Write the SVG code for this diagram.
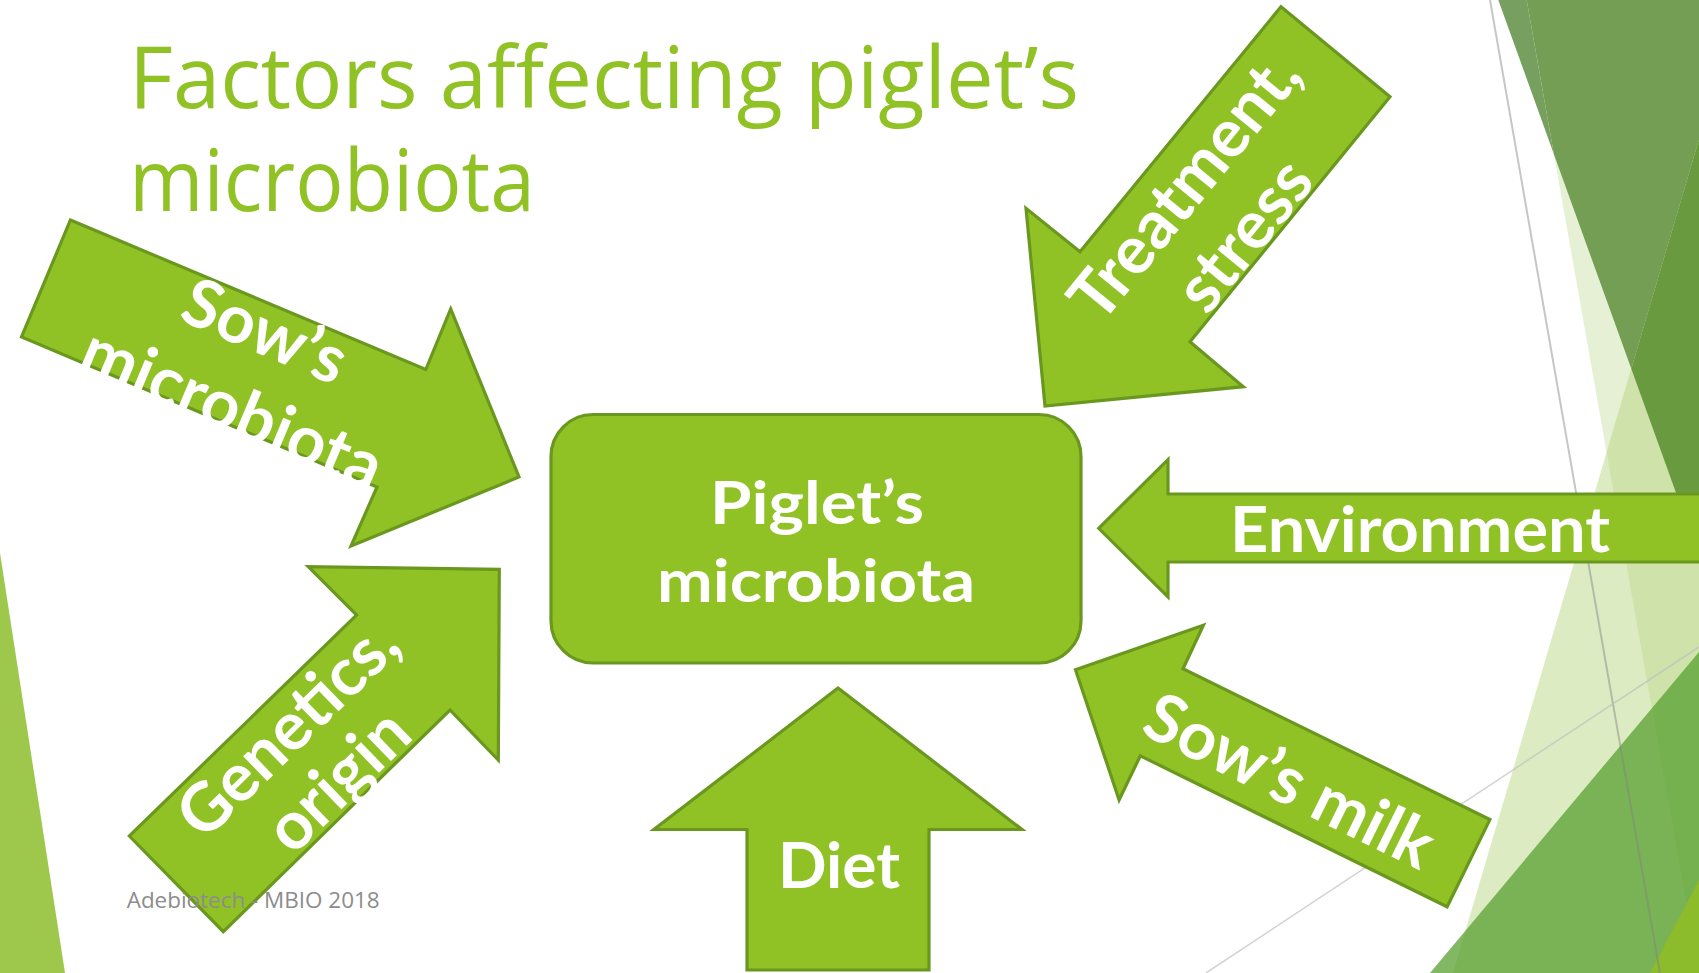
<svg xmlns="http://www.w3.org/2000/svg" width="1699" height="973" viewBox="0 0 1699 973">
<style>
.arrow{fill:#90C226;stroke:#6A971E;stroke-width:3.2;stroke-linejoin:miter}
.lbl{font-family:Lato,"Open Sans","DejaVu Sans",sans-serif;font-weight:700;fill:#FFFFFF;text-anchor:middle}
.title{font-family:"Open Sans","Noto Sans","DejaVu Sans",sans-serif;fill:#90C226}
.foot{font-family:"Open Sans","DejaVu Sans",sans-serif;fill:#8C8C8C}
</style>
<rect x="0" y="0" width="1699" height="973" fill="#FFFFFF"/>
<g id="background">
  <polygon points="0,553 0,973 65,973" fill="#9DC84B"/>
  <polygon points="1526.7,0 1699,0 1699,975" fill="#E6F0D5"/>
  <polygon points="1699,139 1699,973 1453,973" fill="rgb(170,205,105)" fill-opacity="0.4"/>
  <polygon points="1498.3,0 1526.7,0 1554,154.4" fill="#77A060"/>
  <polygon points="1526.7,0 1699,0 1699,139.3 1631.3,368.8 1554,154.4" fill="#739E53"/>
  <polygon points="1699,139.3 1699,556.5 1631.3,368.8" fill="#6A9A40"/>
  <polygon points="1699,652 1699,973 1430,973" fill="#58A030" fill-opacity="0.75"/>
  <polygon points="1699,880 1699,973 1650,973" fill="#8CBB2C"/>
  <line x1="1490" y1="0" x2="1660" y2="973" stroke="#808080" stroke-opacity="0.45" stroke-width="2"/>
  <line x1="1206" y1="973" x2="1699" y2="647" stroke="#BFBFBF" stroke-opacity="0.7" stroke-width="1.5"/>
</g>
<g id="title">
  <text class="title" x="129" y="108.3" font-size="86" textLength="950" lengthAdjust="spacingAndGlyphs">Factors affecting piglet’s</text>
  <text class="title" x="129" y="210.7" font-size="86" textLength="406" lengthAdjust="spacingAndGlyphs">microbiota</text>
</g>
<g id="connectors">
  <g id="arrow-sows-microbiota">
    <polygon class="arrow" points="70.4,220 425.8,369.5 450.7,309 519,477 351,546 377,487 21.5,337"/>
    <g transform="translate(249 369) rotate(22.8)">
      <text class="lbl" font-size="67" x="0" y="-18">Sow’s</text>
      <text class="lbl" font-size="67" x="0" y="66">microbiota</text>
    </g>
  </g>
  <g id="arrow-treatment">
    <polygon class="arrow" points="1281,6.7 1390,96.7 1190,341.7 1243.3,386.7 1045,406 1026,208.3 1080,251.7"/>
    <g transform="translate(1213.5 210) rotate(-50.8)">
      <text class="lbl" font-size="67" x="0" y="-14.5">Treatment,</text>
      <text class="lbl" font-size="67" x="0" y="62.5">stress</text>
    </g>
  </g>
  <g id="arrow-genetics">
    <polygon class="arrow" points="129.3,836 223.3,931.7 450,710 498.3,760 499.3,569.3 308.3,566.7 356.7,615"/>
    <g transform="translate(312 754) rotate(-44.2)">
      <text class="lbl" font-size="67" x="0" y="-12">Genetics,</text>
      <text class="lbl" font-size="67" x="0" y="60">origin</text>
    </g>
  </g>
  <g id="arrow-environment">
    <polygon class="arrow" points="1098.7,528.3 1168,459.5 1168,494 1712,494 1712,562 1168,562 1168,597"/>
    <text class="lbl" font-size="64" x="1420" y="552.3" textLength="380" lengthAdjust="spacingAndGlyphs">Environment</text>
  </g>
  <g id="arrow-sows-milk">
    <polygon class="arrow" points="1075.5,669.7 1203.4,625.3 1183,668.7 1489.9,819.6 1447.1,906.8 1140.3,755.8 1119.1,799.9"/>
    <g transform="translate(1290 780) rotate(26.2)">
      <text class="lbl" font-size="67" x="0" y="24">Sow’s milk</text>
    </g>
  </g>
  <g id="arrow-diet">
    <polygon class="arrow" points="838,688 1022,829.5 929,829.5 929,970 747,970 747,829.5 654,829.5"/>
    <text class="lbl" font-size="64" x="839" y="888">Diet</text>
  </g>
</g>
<g id="node-piglet-microbiota">
  <rect class="arrow" x="551" y="414.5" width="530" height="248.5" rx="42" ry="42"/>
  <text class="lbl" font-size="60" x="817" y="524.3" textLength="214" lengthAdjust="spacingAndGlyphs">Piglet’s</text>
  <text class="lbl" font-size="60" x="816" y="601.8" textLength="318" lengthAdjust="spacingAndGlyphs">microbiota</text>
</g>
<g id="footer">
  <text class="foot" x="126.7" y="908.3" font-size="22" textLength="253" lengthAdjust="spacingAndGlyphs">Adebiotech - MBIO 2018</text>
</g>
</svg>
